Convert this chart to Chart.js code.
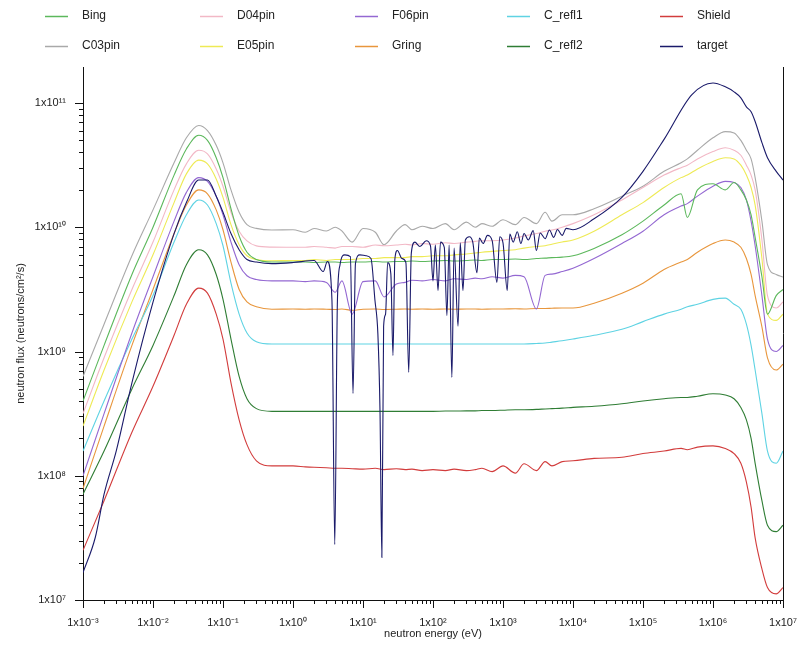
<!DOCTYPE html>
<html>
<head>
<meta charset="utf-8">
<script src="https://cdn.jsdelivr.net/npm/chart.js@4.4.0/dist/chart.umd.min.js"></script>
<style>
  html, body { margin: 0; background: #fff; }
  #wrap { width: 800px; height: 653px; }
</style>
</head>
<body>
<div id="wrap"><canvas id="flux"></canvas></div>
<script>
// energy grid (eV) shared by the nine smooth tallies
const thermalE = [1e-3, 2e-3, 5e-3, 1e-2, 2e-2, 3e-2, 4.5e-2, 6e-2, 8e-2, 0.1, 0.13, 0.17, 0.22, 0.3, 0.5];
const plateauE = [1, 1.5, 2, 3, 4, 5, 7, 10, 15, 20, 30, 40, 50, 70, 100, 150, 200, 300, 400, 500, 700, 1e3, 1.5e3, 2e3, 3e3, 4e3, 5e3, 7e3];
const fastE = [1e4, 2e4, 5e4, 1e5, 2e5, 3.5e5, 4.3e5, 6e5, 1e6, 1.5e6, 2e6, 2.5e6, 3e6, 3.5e6, 4e6, 5e6, 6e6, 8e6, 1e7];
const energies = [...thermalE, ...plateauE, ...fastE];

const seriesNames = ['Bing', 'D04pin', 'F06pin', 'C_refl1', 'Shield', 'C03pin', 'E05pin', 'Gring', 'C_refl2', 'target'];
const seriesColors = ['#5cb85c', '#f2b8c6', '#9468d2', '#5fd3e3', '#d23c3c', '#a9a9a9', '#eeea55', '#e8963c', '#2f7d34', '#1a1a6a'];

// neutron flux (neutrons/cm2/s), thermal | epithermal | fast
const bing = [
  4.0e8, 1.12e9, 4.17e9, 1.0e10, 2.63e10, 4.27e10, 5.5e10, 5.0e10, 3.63e10, 2.51e10, 1.41e10, 8.5e9, 6.3e9, 5.5e9, 5.25e9,
  5.25e9, 5.25e9, 5.2e9, 5.25e9, 5.25e9, 5.2e9, 5.25e9, 5.25e9, 5.3e9, 5.25e9, 5.3e9, 5.3e9, 5.35e9, 5.3e9, 5.35e9, 5.4e9, 5.35e9, 5.4e9, 5.45e9, 5.4e9, 5.5e9, 5.5e9, 5.55e9, 5.5e9, 5.6e9, 5.65e9, 5.7e9, 5.75e9,
  5.9e9, 6.76e9, 8.7e9, 1.12e10, 1.51e10, 1.86e10, 1.2e10, 2.0e10, 2.24e10, 2.0e10, 2.29e10, 2.0e10, 1.66e10, 1.26e10, 8.3e9, 4.0e9, 2.0e9, 2.82e9, 3.16e9
];
const d04pin = [
  3.16e8, 8.9e8, 3.16e9, 7.6e9, 2.0e10, 3.24e10, 4.17e10, 3.9e10, 2.95e10, 2.14e10, 1.32e10, 9.3e9, 7.76e9, 7.08e9, 6.92e9,
  6.9e9, 6.9e9, 7.0e9, 6.9e9, 6.8e9, 7.0e9, 7.0e9, 6.9e9, 7.2e9, 7.1e9, 7.2e9, 7.3e9, 7.2e9, 7.4e9, 7.3e9, 7.5e9, 7.4e9, 7.6e9, 7.7e9, 7.8e9, 7.8e9, 7.9e9, 8.2e9, 8.5e9, 8.9e9, 9.3e9, 9.5e9, 1.0e10,
  1.07e10, 1.26e10, 1.66e10, 2.09e10, 2.63e10, 3.02e10, 3.16e10, 3.55e10, 4.07e10, 4.37e10, 4.17e10, 3.8e10, 3.16e10, 2.63e10, 2.0e10, 7.9e9, 2.82e9, 2.24e9, 2.51e9
];
const f06pin = [
  1.0e8, 3.16e8, 1.41e9, 4.0e9, 1.12e10, 1.91e10, 2.51e10, 2.34e10, 1.78e10, 1.26e10, 7.6e9, 5.0e9, 4.07e9, 3.8e9, 3.7e9,
  3.7e9, 3.65e9, 3.7e9, 3.6e9, 3.0e9, 3.7e9, 2.0e9, 3.65e9, 3.7e9, 2.75e9, 3.5e9, 3.6e9, 3.75e9, 3.7e9, 3.8e9, 3.7e9, 3.85e9, 3.8e9, 3.9e9, 3.85e9, 4.0e9, 3.9e9, 4.1e9, 4.0e9, 2.2e9, 4.1e9, 4.2e9, 4.4e9,
  4.68e9, 5.6e9, 7.4e9, 9.3e9, 1.26e10, 1.48e10, 1.55e10, 1.78e10, 2.14e10, 2.34e10, 2.29e10, 2.09e10, 1.66e10, 1.12e10, 7.1e9, 2.82e9, 1.26e9, 1.0e9, 1.12e9
];
const cRefl1 = [
  1.58e8, 4.0e8, 1.26e9, 2.82e9, 7.6e9, 1.26e10, 1.66e10, 1.51e10, 1.07e10, 7.1e9, 3.55e9, 2.0e9, 1.41e9, 1.2e9, 1.15e9,
  1.15e9, 1.15e9, 1.15e9, 1.15e9, 1.15e9, 1.15e9, 1.15e9, 1.15e9, 1.15e9, 1.15e9, 1.15e9, 1.15e9, 1.15e9, 1.15e9, 1.15e9, 1.15e9, 1.15e9, 1.15e9, 1.15e9, 1.15e9, 1.15e9, 1.15e9, 1.15e9, 1.15e9, 1.16e9, 1.17e9, 1.19e9, 1.22e9,
  1.26e9, 1.35e9, 1.51e9, 1.74e9, 2.0e9, 2.19e9, 2.29e9, 2.4e9, 2.63e9, 2.69e9, 2.4e9, 2.19e9, 1.66e9, 1.12e9, 7.1e8, 3.16e8, 1.58e8, 1.26e8, 1.58e8
];
const shield = [
  2.51e7, 6.3e7, 2.24e8, 5.25e8, 1.35e9, 2.4e9, 3.24e9, 2.95e9, 2.0e9, 1.26e9, 5.6e8, 2.82e8, 1.78e8, 1.32e8, 1.2e8,
  1.2e8, 1.18e8, 1.17e8, 1.16e8, 1.15e8, 1.15e8, 1.14e8, 1.13e8, 1.15e8, 1.12e8, 1.14e8, 1.12e8, 1.13e8, 1.1e8, 1.12e8, 1.1e8, 1.13e8, 1.1e8, 1.12e8, 1.15e8, 1.08e8, 1.2e8, 1.05e8, 1.25e8, 1.1e8, 1.3e8, 1.2e8, 1.3e8,
  1.32e8, 1.38e8, 1.41e8, 1.51e8, 1.58e8, 1.66e8, 1.62e8, 1.7e8, 1.74e8, 1.66e8, 1.51e8, 1.26e8, 8.9e7, 5.6e7, 3.16e7, 1.78e7, 1.26e7, 1.12e7, 1.26e7
];
const c03pin = [
  6.3e8, 1.66e9, 5.9e9, 1.38e10, 3.3e10, 5.25e10, 6.6e10, 6.0e10, 4.57e10, 3.3e10, 2.0e10, 1.32e10, 1.05e10, 9.8e9, 9.5e9,
  9.55e9, 9.12e9, 9.77e9, 9.33e9, 1.0e10, 9.33e9, 7.59e9, 9.77e9, 9.12e9, 7.24e9, 9.33e9, 1.05e10, 9.55e9, 1.02e10, 9.77e9, 1.07e10, 9.55e9, 1.1e10, 1.0e10, 1.07e10, 1.02e10, 1.15e10, 1.05e10, 1.2e10, 1.07e10, 1.32e10, 1.12e10, 1.26e10,
  1.26e10, 1.41e10, 1.78e10, 2.14e10, 2.82e10, 3.31e10, 3.55e10, 4.17e10, 5.25e10, 5.89e10, 5.75e10, 5.0e10, 4.17e10, 3.55e10, 2.51e10, 1.12e10, 5.0e9, 4.17e9, 3.98e9
];
const e05pin = [
  2.51e8, 7.1e8, 2.51e9, 6.0e9, 1.58e10, 2.69e10, 3.47e10, 3.24e10, 2.45e10, 1.74e10, 1.05e10, 7.24e9, 5.9e9, 5.5e9, 5.37e9,
  5.4e9, 5.4e9, 5.5e9, 5.4e9, 5.5e9, 5.5e9, 5.5e9, 5.6e9, 5.6e9, 5.7e9, 5.7e9, 5.7e9, 5.8e9, 5.8e9, 5.9e9, 5.9e9, 6.0e9, 6.1e9, 6.2e9, 6.3e9, 6.4e9, 6.5e9, 6.6e9, 6.8e9, 7.0e9, 7.1e9, 7.3e9, 7.6e9,
  7.9e9, 9.3e9, 1.26e10, 1.58e10, 2.09e10, 2.51e10, 2.63e10, 2.95e10, 3.39e10, 3.63e10, 3.55e10, 3.16e10, 2.63e10, 2.09e10, 1.51e10, 5.6e9, 2.0e9, 1.78e9, 2.0e9
];
const gring = [
  7.9e7, 2.51e8, 1.12e9, 3.16e9, 8.9e9, 1.51e10, 2.0e10, 1.86e10, 1.38e10, 9.55e9, 5.25e9, 3.16e9, 2.51e9, 2.29e9, 2.19e9,
  2.2e9, 2.19e9, 2.2e9, 2.19e9, 2.18e9, 2.2e9, 2.15e9, 2.19e9, 2.2e9, 2.18e9, 2.19e9, 2.2e9, 2.19e9, 2.2e9, 2.19e9, 2.2e9, 2.19e9, 2.2e9, 2.2e9, 2.19e9, 2.2e9, 2.2e9, 2.21e9, 2.2e9, 2.22e9, 2.22e9, 2.23e9, 2.24e9,
  2.24e9, 2.45e9, 2.95e9, 3.55e9, 4.57e9, 5.25e9, 5.5e9, 6.3e9, 7.4e9, 7.9e9, 7.6e9, 6.9e9, 5.6e9, 4.17e9, 2.82e9, 1.58e9, 8.9e8, 7.1e8, 7.9e8
];
const cRefl2 = [
  7.1e7, 1.58e8, 5.0e8, 1.12e9, 2.82e9, 5.0e9, 6.6e9, 6.0e9, 4.17e9, 2.63e9, 1.26e9, 6.3e8, 4.17e8, 3.47e8, 3.3e8,
  3.3e8, 3.3e8, 3.3e8, 3.3e8, 3.3e8, 3.3e8, 3.3e8, 3.3e8, 3.3e8, 3.3e8, 3.3e8, 3.3e8, 3.3e8, 3.3e8, 3.3e8, 3.32e8, 3.32e8, 3.33e8, 3.33e8, 3.35e8, 3.35e8, 3.37e8, 3.4e8, 3.4e8, 3.42e8, 3.45e8, 3.47e8, 3.5e8,
  3.55e8, 3.63e8, 3.8e8, 4.0e8, 4.17e8, 4.27e8, 4.27e8, 4.37e8, 4.57e8, 4.47e8, 4.17e8, 3.55e8, 2.82e8, 2.0e8, 1.26e8, 6.3e7, 4.0e7, 3.55e7, 4.0e7
];

// target tally has its own energy points because of the resonance dips
const targetE = [
  1e-3, 1.5e-3, 2e-3, 3e-3, 5e-3, 1e-2, 2e-2, 3e-2, 4.5e-2, 6e-2, 8e-2, 0.1, 0.13, 0.17, 0.22, 0.3, 0.5,
  1, 2, 2.7, 3.1, 3.6, 3.95, 4.3, 4.7, 5.5, 6.6, 7.2, 7.8, 9, 11, 13, 14.8, 16.3, 17.5, 18.6, 19.7, 21, 22.5, 25, 26.8, 28.5,
  31, 36, 41, 45, 49, 55, 65, 80, 92, 100, 108, 118, 128, 145, 158, 170, 186, 200, 228, 245, 268, 290, 330, 370, 424, 460,
  520, 600, 700, 818, 900, 1000, 1150, 1250, 1400, 1600, 1800, 2000, 2300, 2700, 3000, 3400, 4000, 4600, 5300, 6000, 7000, 8000,
  1e4, 2e4, 5e4, 1e5, 2e5, 5e5, 1e6, 1.5e6, 2e6, 2.5e6, 3e6, 3.5e6, 4e6, 5e6, 6e6, 8e6, 1e7
];
const target = [
  1.66e7, 3.2e7, 7.1e7, 1.6e8, 5.6e8, 2.5e9, 8.9e9, 1.58e10, 2.4e10, 2.4e10, 1.78e10, 1.32e10, 8.9e9, 6.6e9, 5.5e9, 5.25e9, 5.1e9,
  5.2e9, 5.4e9, 4.4e9, 5.3e9, 2.6e9, 2.8e7, 2.4e9, 5.0e9, 6.0e9, 5.8e9, 4.6e8, 5.1e9, 6.0e9, 5.9e9, 5.6e9, 2.6e9, 1.4e9, 3.3e8, 2.2e7, 1.6e9, 2.0e9, 5.2e9, 4.2e9, 9.3e8, 5.5e9,
  6.5e9, 5.6e9, 5.2e9, 6.8e8, 6.2e9, 7.6e9, 7.0e9, 7.8e9, 7.1e9, 3.7e9, 7.2e9, 3.1e9, 7.6e9, 6.9e9, 1.95e9, 7.2e9, 6.2e8, 6.8e9, 1.6e9, 7.5e9, 3.1e9, 7.9e9, 8.4e9, 7.6e9, 4.3e9, 8.2e9,
  7.4e9, 8.6e9, 7.8e9, 3.6e9, 8.4e9, 7.5e9, 3.1e9, 8.8e9, 7.6e9, 9.2e9, 7.4e9, 8.9e9, 7.9e9, 9.4e9, 6.5e9, 9.0e9, 8.1e9, 9.5e9, 8.3e9, 9.6e9, 8.6e9, 9.8e9,
  9.55e9, 1.17e10, 1.74e10, 2.82e10, 5.1e10, 1.17e11, 1.45e11, 1.35e11, 1.23e11, 1.1e11, 9.3e10, 8.5e10, 7.1e10, 4.8e10, 3.63e10, 2.82e10, 2.4e10
];

const xTickPowers = [-3, -2, -1, 0, 1, 2, 3, 4, 5, 6, 7];
const yTickPowers = [7, 8, 9, 10, 11];

const seriesValues = [bing, d04pin, f06pin, cRefl1, shield, c03pin, e05pin, gring, cRefl2, target];

const SUP = { '0': '⁰', '1': '¹', '2': '²', '3': '³', '4': '⁴', '5': '⁵', '6': '⁶', '7': '⁷', '8': '⁸', '9': '⁹', '-': '⁻' };
const powLabel = (p) => '1x10' + String(p).split('').map(c => SUP[c]).join('');
const tickLabel = (value) => {
  const l = Math.log10(value);
  const r = Math.round(l);
  return Math.abs(l - r) < 1e-6 ? powLabel(r) : '';
};

const FONT = "'Liberation Sans', Arial, sans-serif";

const datasets = seriesValues.map((vals, i) => {
  const xs = vals === target ? targetE : energies;
  return {
    label: seriesNames[i],
    data: vals.map((v, k) => ({ x: xs[k], y: v })),
    borderColor: seriesColors[i],
    borderWidth: 1.1,
    pointRadius: 0,
    fill: false,
    cubicInterpolationMode: 'monotone',
    order: vals === target ? -1 : 0
  };
});

const decor = {
  id: 'decor',
  afterDraw(chart) {
    const { ctx, chartArea: a, scales: { x, y } } = chart;
    ctx.save();
    ctx.strokeStyle = '#111';
    ctx.lineWidth = 1;
    ctx.beginPath();
    ctx.moveTo(Math.round(a.right) + 0.5, a.top);
    ctx.lineTo(Math.round(a.right) + 0.5, a.bottom);
    ctx.stroke();

    // tick marks, outward
    ctx.beginPath();
    xTickPowers.forEach(p => {
      for (let m = 1; m < 10; m++) {
        const v = m * Math.pow(10, p);
        if (v > x.max * 1.0001) break;
        const px = Math.round(x.getPixelForValue(v)) + 0.5;
        ctx.moveTo(px, a.bottom);
        ctx.lineTo(px, a.bottom + (m === 1 ? 8 : 4));
      }
    });
    yTickPowers.forEach(p => {
      for (let m = 1; m < 10; m++) {
        const v = m * Math.pow(10, p);
        if (v > y.max) break;
        const py = Math.round(y.getPixelForValue(v)) + 0.5;
        ctx.moveTo(a.left, py);
        ctx.lineTo(a.left - (m === 1 ? 8 : 4), py);
      }
    });
    ctx.stroke();

    // axis titles
    ctx.fillStyle = '#222';
    ctx.font = '11px ' + FONT;
    ctx.textAlign = 'center';
    ctx.textBaseline = 'middle';
    ctx.fillText('neutron energy (eV)', (a.left + a.right) / 2, 634);
    ctx.save();
    ctx.translate(21, (a.top + a.bottom) / 2);
    ctx.rotate(-Math.PI / 2);
    ctx.fillText('neutron flux (neutrons/cm²/s)', 0, 0);
    ctx.restore();

    // legend, 2 rows x 5 columns
    const colX = [45, 200, 355, 507, 660];
    const rowY = [16, 46];
    ctx.font = '12px ' + FONT;
    ctx.textAlign = 'left';
    chart.data.datasets.forEach((ds, i) => {
      const cx = colX[i % 5];
      const cy = rowY[Math.floor(i / 5)];
      ctx.strokeStyle = ds.borderColor;
      ctx.lineWidth = 1.5;
      ctx.beginPath();
      ctx.moveTo(cx, cy + 0.5);
      ctx.lineTo(cx + 23, cy + 0.5);
      ctx.stroke();
      ctx.fillStyle = '#222';
      ctx.fillText(ds.label, cx + 37, cy);
    });
    ctx.restore();
  }
};

new Chart(document.getElementById('flux'), {
  type: 'line',
  data: { datasets },
  options: {
    responsive: true,
    maintainAspectRatio: false,
    animation: false,
    layout: { padding: { top: 67, right: 17, left: 6, bottom: 4 } },
    plugins: { legend: { display: false }, tooltip: { enabled: false } },
    scales: {
      x: {
        type: 'logarithmic',
        min: 1e-3,
        max: 1e7,
        grid: { display: false },
        border: { display: true, color: '#111', width: 1 },
        ticks: { callback: tickLabel, autoSkip: false, maxRotation: 0, padding: 8, color: '#222', font: { size: 11, family: FONT } },
        afterFit: (s) => { s.height = 49; s.paddingLeft = 0; s.paddingRight = 0; }
      },
      y: {
        type: 'logarithmic',
        min: 1e7,
        max: 1.95e11,
        grid: { display: false },
        border: { display: true, color: '#111', width: 1 },
        ticks: { callback: tickLabel, autoSkip: false, padding: 9, color: '#222', font: { size: 11, family: FONT } },
        afterFit: (s) => { s.width = 77; s.paddingTop = 0; s.paddingBottom = 0; }
      }
    }
  },
  plugins: [decor]
});
</script>
</body>
</html>
